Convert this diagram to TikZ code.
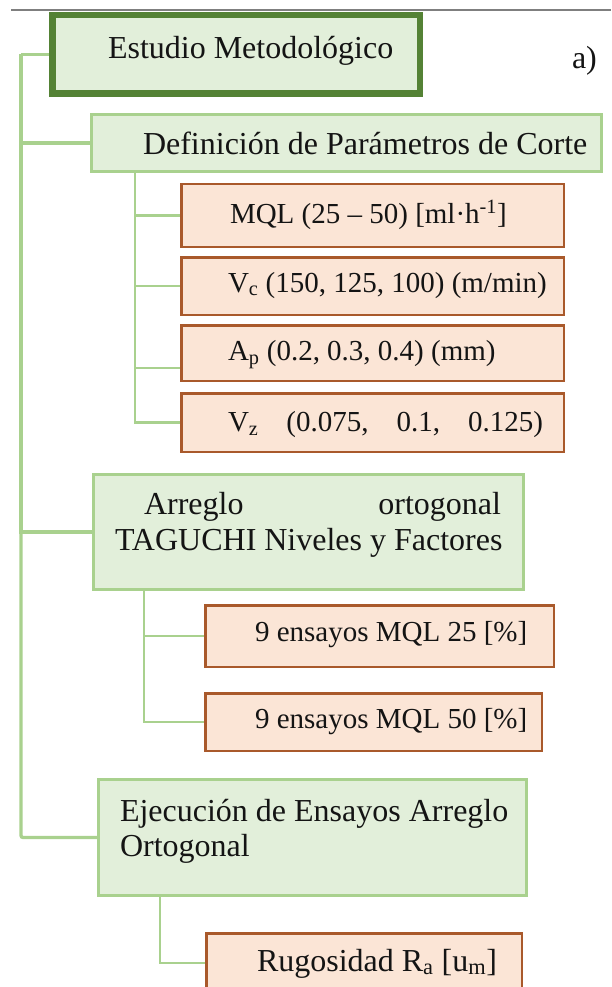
\documentclass[tikz,border=0pt]{standalone}
\usepackage{fontspec}
\setmainfont{Liberation Serif}
\definecolor{dgreen}{HTML}{548235}
\definecolor{lgreen}{HTML}{A9D18E}
\definecolor{gfill}{HTML}{E2EFDA}
\definecolor{bborder}{HTML}{A9592B}
\definecolor{bfill}{HTML}{FBE5D6}
\definecolor{txtcol}{HTML}{141414}
\definecolor{topline}{HTML}{7F7F7F}
\begin{document}
\begin{tikzpicture}[x=1pt,y=-1pt,
  rootbox/.style={draw=dgreen, line width=6.5pt, fill=gfill, inner sep=0pt, rectangle},
  greenbox/.style={draw=lgreen, line width=3pt, fill=gfill, inner sep=0pt, rectangle},
  brownbox/.style={draw=bborder, line width=2.5pt, fill=bfill, inner sep=0pt, rectangle},
  gtxt/.style={anchor=base west, inner sep=0pt, outer sep=0pt, text=txtcol, font=\fontsize{32}{36}\selectfont},
  btxt/.style={anchor=base west, inner sep=0pt, outer sep=0pt, text=txtcol, font=\fontsize{29}{34}\selectfont},
  trunk/.style={draw=lgreen, line width=3.3pt},
  subline/.style={draw=lgreen, line width=2.2pt},
  rule/.style={draw=topline, line width=2pt}]
\clip (0,0) rectangle (611,987);
\fill[white] (0,0) rectangle (611,987);

% top rule
\coordinate (hl) at (11,10);
\coordinate (hr) at (611,10);
\draw[rule] (hl) -- (hr);

% boxes
\node[rootbox, minimum width=367.5pt, minimum height=78.5pt] (root) at (236,54.5) {};
\node[greenbox, minimum width=510pt, minimum height=57pt] (def) at (346.5,143) {};
\node[brownbox, minimum width=382.5pt, minimum height=62.5pt] (mql) at (372.5,215.5) {};
\node[brownbox, minimum width=382.5pt, minimum height=57.5pt] (vc) at (372.5,286) {};
\node[brownbox, minimum width=382.5pt, minimum height=55.5pt] (ap) at (372.5,353) {};
\node[brownbox, minimum width=382.5pt, minimum height=58.5pt] (vz) at (372.5,422.5) {};
\node[greenbox, minimum width=430pt, minimum height=115pt] (arr) at (308.5,532) {};
\node[brownbox, minimum width=348.5pt, minimum height=61.5pt] (e25) at (379.5,636) {};
\node[brownbox, minimum width=336.5pt, minimum height=57.5pt] (e50) at (373.5,722) {};
\node[greenbox, minimum width=428pt, minimum height=116pt] (ejec) at (312.5,837.5) {};
\node[brownbox, minimum width=315.5pt, minimum height=59.5pt] (rug) at (364,963) {};

% texts
\node[gtxt] (troot) at (108,59) {Estudio Metodológico};
\node[gtxt] (ta) at (572,69) {a)};
\node[gtxt] (tdef) at (143,155) {Definición de Parámetros de Corte};
\node[btxt] (tmql) at (230,223) {MQL (25 -- 50) [ml·h\textsuperscript{-1}]};
\node[btxt] (tvc) at (228,292) {V\textsubscript{c} (150, 125, 100) (m/min)};
\node[btxt] (tap) at (228,360.5) {A\textsubscript{p} (0.2, 0.3, 0.4) (mm)};
\node[btxt] (tvz) at (228,431.5) {\hbox to 315pt{V\textsubscript{z}\hfil(0.075,\hfil 0.1,\hfil 0.125)}};
\node[gtxt] (tarr1) at (144,514) {\hbox to 357pt{Arreglo\hfill ortogonal}};
\node[gtxt] (tarr2) at (115,550) {TAGUCHI Niveles y Factores};
\node[btxt] (te25) at (255,641) {9 ensayos MQL 25 [\%]};
\node[btxt] (te50) at (255,728.5) {9 ensayos MQL 50 [\%]};
\node[gtxt] (tej1) at (120,821) {Ejecución de Ensayos Arreglo};
\node[gtxt] (tej2) at (120,856.5) {Ortogonal};
\node[gtxt] (trug) at (257,971) {Rugosidad R\textsubscript{a} [u\textsubscript{m}]};

% main trunk
\draw[trunk] (root.west) -- ++(-28,0) coordinate (tk);
\draw[trunk] (tk) |- (def.west);
\draw[trunk] (tk) |- (arr.west);
\draw[trunk, rounded corners=2pt] (tk) |- (ejec.west);

% sub branches
\coordinate (ds) at ([xshift=45pt]def.south west);
\draw[subline] (ds) |- (mql.west);
\draw[subline] (ds) |- (vc.west);
\draw[subline] (ds) |- ([yshift=-15pt]ap.west);
\draw[subline] (ds) |- (vz.west);

\coordinate (as) at ([xshift=52pt]arr.south west);
\draw[subline] (as) |- (e25.west);
\draw[subline] (as) |- (e50.west);

\coordinate (es) at ([xshift=63pt]ejec.south west);
\draw[subline] (es) |- (rug.west);
\end{tikzpicture}
\end{document}
